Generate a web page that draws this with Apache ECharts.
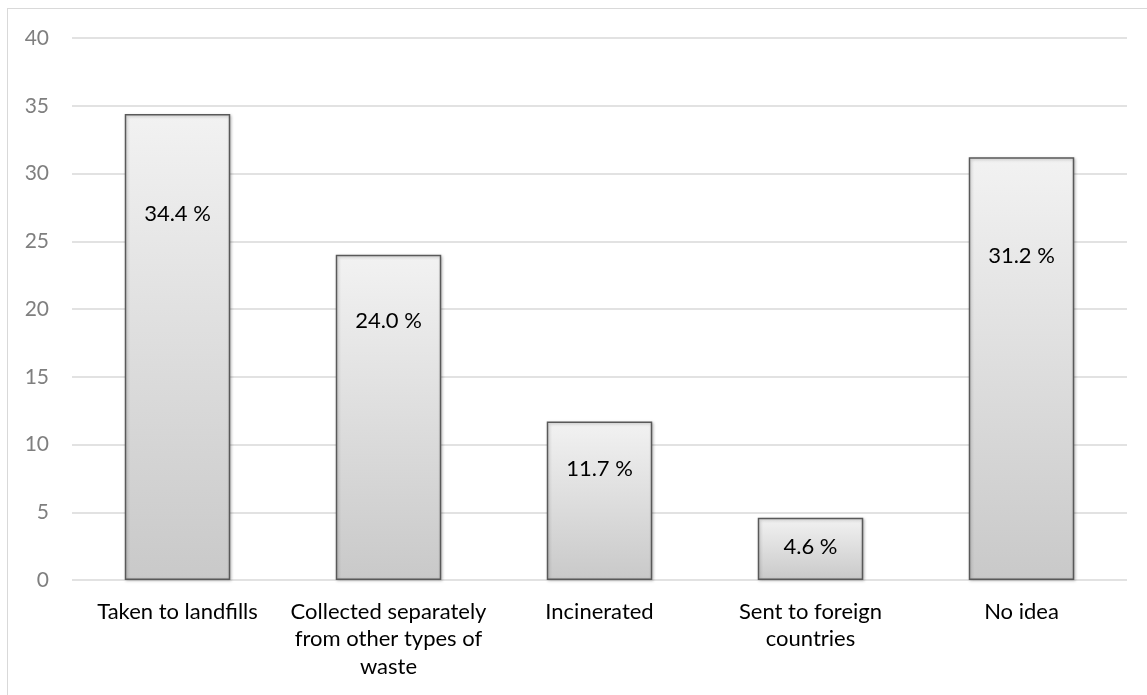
<!DOCTYPE html>
<html>
<head>
<meta charset="utf-8">
<script src="https://cdn.jsdelivr.net/npm/echarts@6/dist/echarts.min.js"></script>
<style>
    html, body { margin: 0; padding: 0; background: #fff; overflow: hidden; }
    #frame {
        position: absolute; left: 7px; top: 8px; width: 1160px; height: 700px;
        border: 1.5px solid #d9d9d9;
    }
    #chart { position: absolute; left: 0; top: 0; width: 1147px; height: 695px; }
</style>
</head>
<body>
<div id="frame"></div>
<div id="chart"></div>
<script>
const categories = [
    'Taken to landfills',
    'Collected separately\nfrom other types of\nwaste',
    'Incinerated',
    'Sent to foreign\ncountries',
    'No idea',
]
const shares = [34.4, 24.0, 11.7, 4.6, 31.2]
const yTicks = { min: 0, max: 40, interval: 5 }

// label distance from bar top, px (labels were hand-placed in the original)
const labelDist = [89, 55, 36, 18, 88]

const font = 'Lato, "Open Sans", sans-serif'

const chart = echarts.init(document.getElementById('chart'))

const option = {
    animation: false,
    grid: { left: 72, right: 20, top: 38, bottom: 115 },
    xAxis: {
        type: 'category',
        data: categories,
        axisLine: { show: false },
        axisTick: { show: false },
        axisLabel: {
            color: '#000',
            fontFamily: font,
            fontSize: 22,
            lineHeight: 27.5,
            margin: 18,
            interval: 0,
        },
    },
    yAxis: {
        type: 'value',
        min: yTicks.min,
        max: yTicks.max,
        interval: yTicks.interval,
        axisLine: { show: false },
        axisTick: { show: false },
        axisLabel: {
            color: '#7f7f7f',
            fontFamily: font,
            fontSize: 21,
            margin: 23,
        },
        splitLine: { lineStyle: { color: '#d9d9d9', width: 1.5 } },
    },
    series: [
        {
            type: 'bar',
            barWidth: '50%',
            data: shares.map((v, i) => ({
                value: v,
                label: { distance: labelDist[i] },
            })),
            itemStyle: {
                color: new echarts.graphic.LinearGradient(0, 0, 0, 1, [
                    { offset: 0, color: '#f2f2f2' },
                    { offset: 1, color: '#c9c9c9' },
                ]),
                borderColor: '#595959',
                borderWidth: 1.5,
                shadowColor: 'rgba(0,0,0,0.25)',
                shadowBlur: 3,
                shadowOffsetX: 1,
                shadowOffsetY: 1,
            },
            label: {
                show: true,
                position: 'insideTop',
                color: '#000',
                fontFamily: font,
                fontSize: 22,
                formatter: (p) => p.value.toFixed(1) + ' %',
            },
        },
    ],
}

chart.setOption(option)
</script>
</body>
</html>
